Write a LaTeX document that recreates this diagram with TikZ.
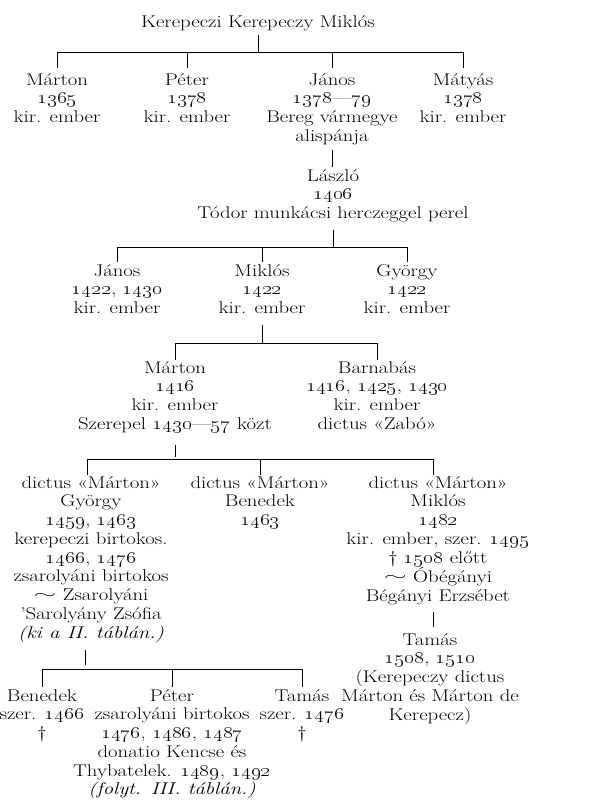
\documentclass[tikz,border=0pt]{standalone}
\usepackage{graphicx}
\newcommand\osn[1]{\oldstylenums{#1}}
\newcommand\marr{\raisebox{0.3ex}{\scalebox{1.4}[0.8]{$\sim$}}}
\begin{document}
\begin{tikzpicture}[x=1pt,y=-1pt,
  person/.style={align=center, anchor=north, inner sep=0pt, xscale=1.22,
    font=\fontsize{17}{18.75}\selectfont,
    execute at begin node={\rule{0pt}{14pt}}},
  link/.style={line width=0.75pt}]
\useasboundingbox[fill=white] (0,0) rectangle (593,801);

% generation 0
\node[person] (root) at (258,13) {Kerepeczi Kerepeczy Miklós};
\coordinate (bar1) at (260,52);
\coordinate (t1) at (260,68);
% generation 1
\node[person] (m1) at (57,73) {Márton\\\osn{1365}\\kir. ember};
\node[person] (m2) at (187,73) {Péter\\\osn{1378}\\kir. ember};
\node[person] (m3) at (332,73) {János\\\osn{1378}---\osn{79}\\Bereg vármegye\\alispánja};
\node[person] (m4) at (463,73) {Mátyás\\\osn{1378}\\kir. ember};
\draw[link] (root.south |- 0,35) -- (root.south |- bar1);
\draw[link] (m1 |- bar1) -- (m4 |- bar1);
\foreach \n in {m1,m2,m3,m4} \draw[link] (\n |- bar1) -- (\n |- t1);

% Laszlo
\node[person] (lasz) at (333,169) {László\\\osn{1406}\\Tódor munkácsi herczeggel perel};
\coordinate (s2a) at (333,150);
\coordinate (s2b) at (333,167);
\draw[link] (m3 |- s2a) -- (m3 |- s2b);
\coordinate (bar2) at (333,247);
\coordinate (t2) at (333,262);
\node[person] (j2) at (117,264) {János\\\osn{1422}, \osn{1430}\\kir. ember};
\node[person] (k2) at (262,264) {Miklós\\\osn{1422}\\kir. ember};
\node[person] (g2) at (407,264) {György\\\osn{1422}\\kir. ember};
\draw[link] (lasz.south |- 0,230) -- (lasz.south |- bar2);
\draw[link] (j2 |- bar2) -- (g2 |- bar2);
\foreach \n in {j2,k2,g2} \draw[link] (\n |- bar2) -- (\n |- t2);

% generation 3
\coordinate (bar3) at (262,343);
\coordinate (t3) at (262,360);
\node[person] (ma3) at (175,361) {Márton\\\osn{1416}\\kir. ember\\Szerepel \osn{1430}---\osn{57} közt};
\node[person] (ba3) at (377,361) {Barnabás\\\osn{1416}, \osn{1425}, \osn{1430}\\kir. ember\\dictus «Zabó»};
\draw[link] (k2 |- 0,325) -- (k2 |- bar3);
\draw[link] (ma3 |- bar3) -- (ba3 |- bar3);
\foreach \n in {ma3,ba3} \draw[link] (\n |- bar3) -- (\n |- t3);

% generation 4
\coordinate (bar4) at (173,459);
\coordinate (t4) at (173,475);
\node[person] (gy4) at (91,476) {dictus «Márton»\\György\\\osn{1459}, \osn{1463}\\kerepeczi birtokos.\\\osn{1466}, \osn{1476}\\zsarolyáni birtokos\\\marr\ Zsarolyáni\\'Sarolyány Zsófia\\\textit{(ki a II. táblán.)}};
\node[person] (be4) at (260,476) {dictus «Márton»\\Benedek\\\osn{1463}};
\node[person] (mi4) at (438,476) {dictus «Márton»\\Miklós\\\osn{1482}\\kir. ember, szer. \osn{1495}\\\textdagger\ \osn{1508} előtt\\\marr\ Óbégányi\\Bégányi Erzsébet};
\draw[link] (ma3 |- 0,445) -- (ma3 |- 0,457);
\draw[link] (87,459) -- (433,459);
\draw[link] (87,459) -- (87,475);
\draw[link] (be4 |- bar4) -- (be4 |- t4);
\draw[link] (433,459) -- (433,475);

% Tamas (right)
\node[person] (ta5) at (430,633) {Tamás\\\osn{1508}, \osn{1510}\\(Kerepeczy dictus\\Márton és Márton de\\Kerepecz)};
\draw[link] (433,612) -- (433,627);

% generation 5 (left)
\coordinate (bar5) at (85,669);
\coordinate (t5) at (85,687);
\node[person] (bn5) at (42,689) {Benedek\\szer. \osn{1466}\\\textdagger};
\node[person] (pe5) at (172,689) {Péter\\zsarolyáni birtokos\\\osn{1476}, \osn{1486}, \osn{1487}\\donatio Kencse és\\Thybatelek. \osn{1489}, \osn{1492}\\\textit{(folyt. III. táblán.)}};
\node[person] (tm5) at (302,689) {Tamás\\szer. \osn{1476}\\\textdagger};
\draw[link] (85,650) -- (85,665);
\draw[link] (43,669) -- (302,669);
\foreach \n in {bn5,pe5,tm5} \draw[link] (\n |- bar5) -- (\n |- t5);
\end{tikzpicture}
\end{document}
